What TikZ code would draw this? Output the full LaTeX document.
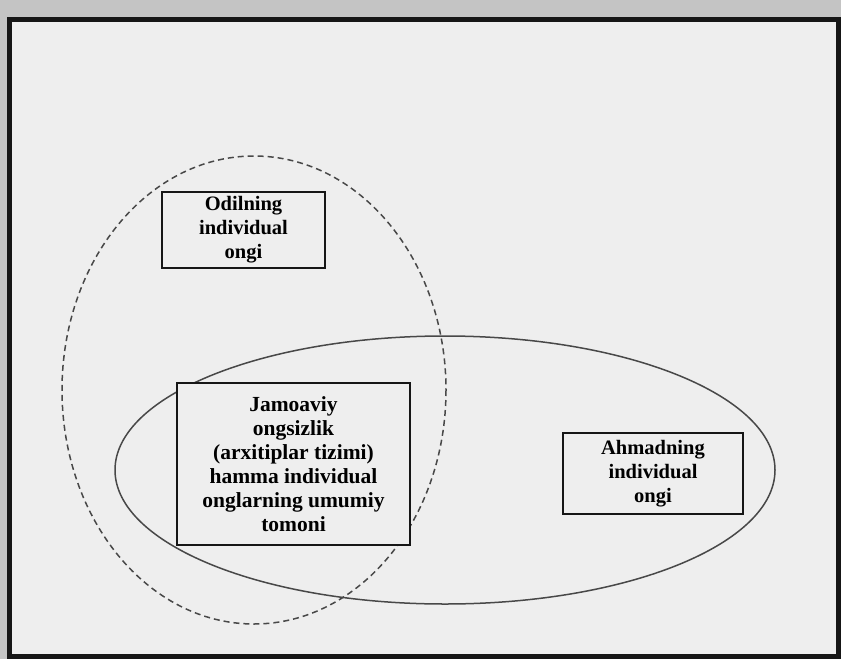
\documentclass[tikz,border=0pt]{standalone}
\usepackage{fontspec}
\setmainfont{Liberation Serif}
\usepackage{tikz}
\usetikzlibrary{positioning}
\definecolor{scanpaper}{RGB}{238,238,238}
\definecolor{scanedge}{RGB}{196,196,196}
\definecolor{inkdark}{RGB}{22,22,22}
\definecolor{inkgrey}{RGB}{72,72,72}
\tikzset{
  ongbox/.style={rectangle, draw=inkdark, fill=scanpaper,
    line width=1.8pt, align=center, inner sep=0pt,
    font=\bfseries\fontsize{20.5}{24}\selectfont},
  dashring/.style={draw=inkgrey, line width=1.5pt, dash pattern=on 6pt off 4pt},
  solidring/.style={draw=inkgrey, line width=1.5pt}
}

\begin{document}
\begin{tikzpicture}[x=1pt, y=-1pt]
  \useasboundingbox (0,0) rectangle (841,659);
  % scanned page and its frame
  \fill[scanedge] (0,0) rectangle (841,659);
  \fill[scanpaper] (9,19) rectangle (838,656);
  \draw[inkdark, line width=5pt] (9,19) rectangle (838,656);

  % Odil's circle (dashed) and Ahmad's circle (solid)
  \draw[dashring] (254,390) ellipse [x radius=192, y radius=234];
  \draw[solidring] (445,470) ellipse [x radius=330, y radius=134];

  % boxes
  \node[ongbox, minimum width=163, minimum height=76] (odil) at (243.5,230)
    {Odilning\\individual\\ongi};
  \node[ongbox, minimum width=233, minimum height=162,
    font=\bfseries\fontsize{21.5}{24}\selectfont] (jamoaviy) at (293.5,464)
    {Jamoaviy\\ongsizlik\\(arxitiplar tizimi)\\hamma individual\\onglarning umumiy\\tomoni};
  \node[ongbox, minimum width=180, minimum height=81] (ahmad) at (653,473.5)
    {Ahmadning\\individual\\ongi};
\end{tikzpicture}
\end{document}
